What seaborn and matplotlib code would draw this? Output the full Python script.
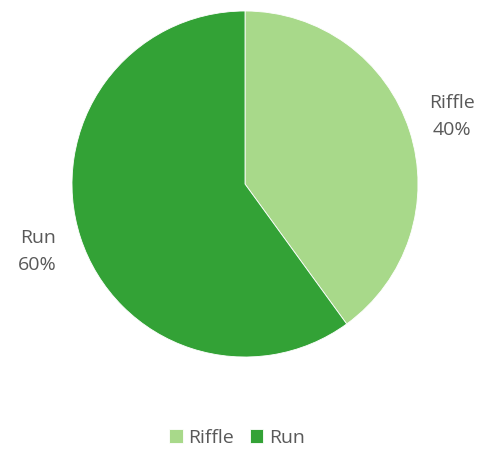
import matplotlib
matplotlib.use("Agg")
import matplotlib.pyplot as plt
import seaborn as sns

sns.set_theme(style="white")
plt.rcParams['font.family'] = ['Open Sans', 'DejaVu Sans']

# data
categories = ['Riffle', 'Run']
shares = [40, 60]
colors = ['#a8d98a', '#33a236']

fig = plt.figure(figsize=(4.9, 4.58), dpi=100)
ax = fig.add_axes([72 / 490, 101 / 458, 346 / 490, 346 / 458])

labels = [f"{c}\n{v}%" for c, v in zip(categories, shares)]
wedges, texts = ax.pie(shares, colors=colors, startangle=90, counterclock=False,
                       labels=labels, labeldistance=1.26,
                       wedgeprops={'linewidth': 0.6, 'edgecolor': 'white'},
                       textprops={'color': '#595959', 'fontsize': 14, 'linespacing': 1.6})
for t in texts:
    t.set_ha('center')
    t.set_va('center')
ax.set_xlim(-1, 1)
ax.set_ylim(-1, 1)
ax.set_aspect('equal')

fig.legend(wedges, categories, loc='center', bbox_to_anchor=(237 / 490, 1 - 438 / 458),
           ncol=2, frameon=False, fontsize=14, handlelength=0.7, handleheight=0.7,
           handletextpad=0.3, columnspacing=0.8, labelcolor='#595959')

fig.savefig('out.png', dpi=100)
